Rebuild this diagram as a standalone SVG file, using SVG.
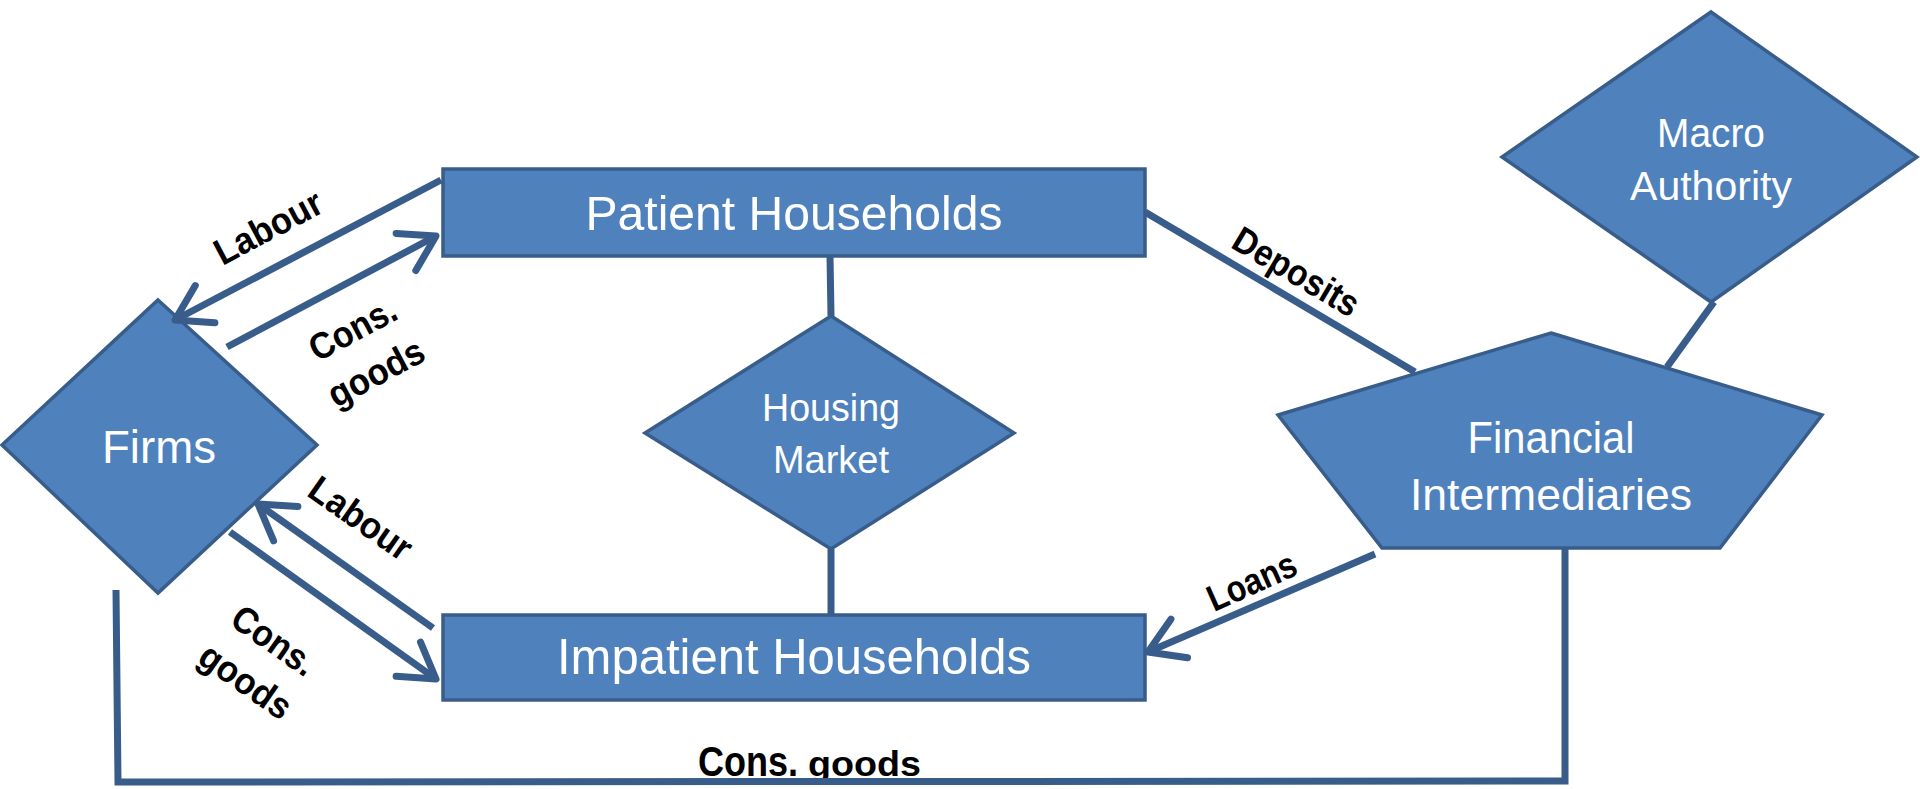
<svg xmlns="http://www.w3.org/2000/svg" width="1920" height="789" viewBox="0 0 1920 789">
<style>
.node{fill:#4F81BD;stroke:#385D8A;stroke-width:3.5;stroke-linejoin:miter}
.nt{font-family:"Liberation Sans",Arial,sans-serif;fill:#fff;text-anchor:middle}
.edge{fill:none;stroke:#385D8A;stroke-width:7;stroke-linejoin:miter}
.lbl{font-family:"Liberation Sans",Arial,sans-serif;font-weight:bold;fill:#000;text-anchor:middle;font-size:37px}
</style>
<defs>
<marker id="arr" markerUnits="userSpaceOnUse" markerWidth="60" markerHeight="60" viewBox="-45 -30 60 60" refX="0" refY="0" orient="auto" overflow="visible">
<path d="M-34,-21 L0,0 L-34,21" fill="none" stroke="#385D8A" stroke-width="7" stroke-linecap="round" stroke-linejoin="round"/>
</marker>
</defs>
<rect width="1920" height="789" fill="#fff"/>

<g id="firms">
<polygon class="node" points="158,300 317,445 158,593 2,445"/>
<text class="nt" x="159" y="463" font-size="47" textLength="114" lengthAdjust="spacingAndGlyphs">Firms</text>
</g>
<g id="patient-households">
<rect class="node" x="443" y="169" width="702" height="87"/>
<text class="nt" x="794" y="230" font-size="49" textLength="417" lengthAdjust="spacingAndGlyphs">Patient Households</text>
</g>
<g id="impatient-households">
<rect class="node" x="443" y="615" width="702" height="85"/>
<text class="nt" x="794" y="674" font-size="50" textLength="474" lengthAdjust="spacingAndGlyphs">Impatient Households</text>
</g>
<g id="housing-market">
<polygon class="node" points="831,316 1014,433 831,549 645,433"/>
<text class="nt" x="831" y="421" font-size="39" textLength="138" lengthAdjust="spacingAndGlyphs">Housing</text>
<text class="nt" x="831" y="473" font-size="39" textLength="116" lengthAdjust="spacingAndGlyphs">Market</text>
</g>
<g id="macro-authority">
<polygon class="node" points="1711,12 1917,157 1711,302 1502,157"/>
<text class="nt" x="1711" y="147" font-size="41" textLength="108" lengthAdjust="spacingAndGlyphs">Macro</text>
<text class="nt" x="1711" y="200" font-size="41" textLength="162" lengthAdjust="spacingAndGlyphs">Authority</text>
</g>
<g id="financial-intermediaries">
<polygon class="node" points="1551,333 1822,415 1720,548 1382,548 1278,415"/>
<text class="nt" x="1551" y="453" font-size="44" textLength="167" lengthAdjust="spacingAndGlyphs">Financial</text>
<text class="nt" x="1551" y="510" font-size="45" textLength="282" lengthAdjust="spacingAndGlyphs">Intermediaries</text>
</g>

<g id="labels">
<text class="lbl" transform="translate(268,227) rotate(-28)" y="13" textLength="117" lengthAdjust="spacingAndGlyphs">Labour</text>
<g transform="translate(365,352) rotate(-28)">
<text class="lbl" y="-13.5" textLength="94" lengthAdjust="spacingAndGlyphs">Cons.</text>
<text class="lbl" y="36" textLength="104" lengthAdjust="spacingAndGlyphs">goods</text>
</g>
<text class="lbl" transform="translate(361,518) rotate(35)" y="13" textLength="117" lengthAdjust="spacingAndGlyphs">Labour</text>
<g transform="translate(259,662) rotate(35)">
<text class="lbl" y="-13.5" textLength="94" lengthAdjust="spacingAndGlyphs">Cons.</text>
<text class="lbl" y="36" textLength="104" lengthAdjust="spacingAndGlyphs">goods</text>
</g>
<text class="lbl" transform="translate(1295,274) rotate(30.5)" y="10" textLength="140" lengthAdjust="spacingAndGlyphs">Deposits</text>
<text class="lbl" transform="translate(1252,582) rotate(-24)" y="12" font-size="35" textLength="94" lengthAdjust="spacingAndGlyphs">Loans</text>
<text class="lbl" style="text-anchor:start" y="776"><tspan x="698" font-size="42" textLength="100" lengthAdjust="spacingAndGlyphs">Cons.</tspan><tspan x="808" font-size="35" textLength="113" lengthAdjust="spacingAndGlyphs">goods</tspan></text>
</g>

<g id="connectors">
<path class="edge" d="M441,180 L175,320" marker-end="url(#arr)"/>
<path class="edge" d="M227,347 L436,236" marker-end="url(#arr)"/>
<path class="edge" d="M433,628 L258,504" marker-end="url(#arr)"/>
<path class="edge" d="M230,532 L436,679" marker-end="url(#arr)"/>
<path class="edge" d="M1145,212 L1415,372"/>
<path class="edge" d="M1375,554 L1148,652" marker-end="url(#arr)"/>
<path class="edge" d="M1714,302 L1667,367"/>
<path class="edge" d="M830,256 L831,316"/>
<path class="edge" d="M831,549 L831,615"/>
<path class="edge" d="M116,590 L118,782 L1565,781 L1565,548"/>
</g>
</svg>
